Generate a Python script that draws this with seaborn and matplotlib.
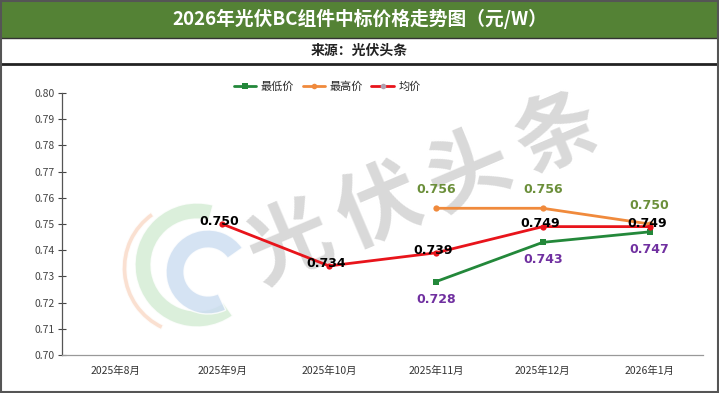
import matplotlib
matplotlib.use("Agg")
import matplotlib.pyplot as plt
import numpy as np
import pandas as pd
import seaborn as sns
from matplotlib.patches import Rectangle, Wedge

# data
MONTHS = ["2025年8月", "2025年9月", "2025年10月", "2025年11月", "2025年12月", "2026年1月"]
AVG_PRICE = [None, 0.750, 0.734, 0.739, 0.749, 0.749]
MAX_PRICE = [None, None, None, 0.756, 0.756, 0.750]
MIN_PRICE = [None, None, None, 0.728, 0.743, 0.747]

SERIES = ["最低价", "最高价", "均价"]
COLORS = {"最低价": "#23883a", "最高价": "#f08a3c", "均价": "#e8141b"}
MARKERS = {"最低价": "s", "最高价": "o", "均价": "o"}

TITLE = "2026年光伏BC组件中标价格走势图（元/W）"
SUBTITLE = "来源：光伏头条"

W, H = 719, 393


def fx(px):
    return px / W


def fy(py):
    return 1 - py / H


def build_frame():
    rows = []
    for name, values in zip(SERIES, [MIN_PRICE, MAX_PRICE, AVG_PRICE]):
        for i, v in enumerate(values):
            if v is not None:
                rows.append({"month": i, "price": v, "series": name})
    return pd.DataFrame(rows)


def draw_background(fig):
    # title band, subtitle band, outer frame
    fig.patches.append(Rectangle((0, fy(38)), 1, 38 / H, transform=fig.transFigure,
                                 facecolor="#548235", edgecolor="none", zorder=0))
    fig.patches.append(Rectangle((0.001, 0.002), 0.998, 0.996, transform=fig.transFigure,
                                 facecolor="none", edgecolor="#555555", lw=1.5, zorder=5))
    fig.lines.append(plt.Line2D([0, 1], [fy(38), fy(38)], transform=fig.transFigure,
                                color="#333333", lw=1.0))
    fig.lines.append(plt.Line2D([0, 1], [fy(64), fy(64)], transform=fig.transFigure,
                                color="#222222", lw=2.0))
    fig.text(0.5, fy(19), TITLE, color="white", fontsize=13.5, fontweight="bold",
             ha="center", va="center")
    fig.text(0.5, fy(51), SUBTITLE, color="#222222", fontsize=10, fontweight="bold",
             ha="center", va="center")


def draw_watermark(fig):
    ax_w = fig.add_axes([0, 0, 1, 1], zorder=-1)
    ax_w.set_xlim(0, W)
    ax_w.set_ylim(H, 0)
    ax_w.set_aspect("equal")
    ax_w.axis("off")
    # colored logo rings
    ax_w.add_patch(Wedge((190, 268), 68, 115, 235, width=5, facecolor="#f9d9c6", alpha=0.8))
    ax_w.add_patch(Wedge((197, 265), 62, 55, 285, width=16, facecolor="#d3ebd3", alpha=0.8))
    ax_w.add_patch(Wedge((208, 272), 42, 65, 325, width=18, facecolor="#cbdcf1", alpha=0.8))
    # rotated text watermark
    chars = "光伏头条"
    x0, y0, x1, y1 = 290, 245, 558, 135
    for i, ch in enumerate(chars):
        t = i / (len(chars) - 1)
        ax_w.text(x0 + (x1 - x0) * t, y0 + (y1 - y0) * t, ch, fontsize=60,
                  fontweight="bold", color="#d9d9d9", rotation=23,
                  ha="center", va="center")


def plot_chart():
    sns.set_theme(style="white")
    plt.rcParams["font.family"] = ["Noto Sans CJK SC", "DejaVu Sans"]
    plt.rcParams["axes.unicode_minus"] = False

    fig = plt.figure(figsize=(W / 100, H / 100), dpi=100)
    fig.patch.set_facecolor("white")
    draw_background(fig)
    draw_watermark(fig)

    ax = fig.add_axes([fx(62), fy(355), fx(703) - fx(62), fy(93) - fy(355)])
    ax.patch.set_alpha(0)

    data = build_frame()
    sns.lineplot(data=data, x="month", y="price", hue="series", style="series",
                 hue_order=SERIES, style_order=SERIES, palette=COLORS,
                 markers=MARKERS, dashes=False, markersize=4.5, markeredgewidth=0,
                 linewidth=2, ax=ax, legend=False)

    # data labels
    for i, v in enumerate(MAX_PRICE):
        if v is not None:
            ax.annotate("%.3f" % v, (i, v), xytext=(0, 9), textcoords="offset points",
                        ha="center", va="bottom", fontsize=9, fontweight="bold",
                        color="#6b8f3a", family="DejaVu Sans")
    for i, v in enumerate(MIN_PRICE):
        if v is not None:
            ax.annotate("%.3f" % v, (i, v), xytext=(0, -8), textcoords="offset points",
                        ha="center", va="top", fontsize=9, fontweight="bold",
                        color="#7030a0", family="DejaVu Sans")
    for i, v in enumerate(AVG_PRICE):
        if v is not None:
            ax.annotate("%.3f" % v, (i, v), xytext=(-2, 2), textcoords="offset points",
                        ha="center", va="center", fontsize=9, fontweight="bold",
                        color="black", family="DejaVu Sans")

    ax.set_xlim(-0.5, len(MONTHS) - 0.5)
    ax.set_ylim(0.70, 0.80)
    ticks = np.arange(0.70, 0.8001, 0.01)
    ax.set_yticks(ticks)
    ax.set_yticklabels(["%.2f" % t for t in ticks])
    ax.set_xticks(range(len(MONTHS)))
    ax.set_xticklabels(MONTHS)
    ax.set_xlabel("")
    ax.set_ylabel("")
    ax.tick_params(axis="y", direction="inout", length=6, width=0.8, colors="#444444",
                   labelsize=7.5, pad=2, left=True)
    ax.tick_params(axis="x", length=0, labelsize=7.5, colors="#333333", pad=8)
    for side in ["top", "right"]:
        ax.spines[side].set_visible(False)
    ax.spines["left"].set_color("#555555")
    ax.spines["left"].set_linewidth(0.9)
    ax.spines["bottom"].set_color("#999999")
    ax.spines["bottom"].set_linewidth(0.9)

    handles = [plt.Line2D([], [], color=COLORS[s], lw=2, marker=MARKERS[s], markersize=4,
                          markerfacecolor=(COLORS[s] if s != "均价" else "#b0a0b0"),
                          markeredgewidth=0) for s in SERIES]
    fig.legend(handles, SERIES, loc="center", bbox_to_anchor=(fx(327), fy(87)), ncol=3,
               frameon=False, fontsize=8, handlelength=2.0, handletextpad=0.4,
               columnspacing=0.8)

    fig.savefig("out.png", dpi=100)


if __name__ == "__main__":
    plot_chart()
